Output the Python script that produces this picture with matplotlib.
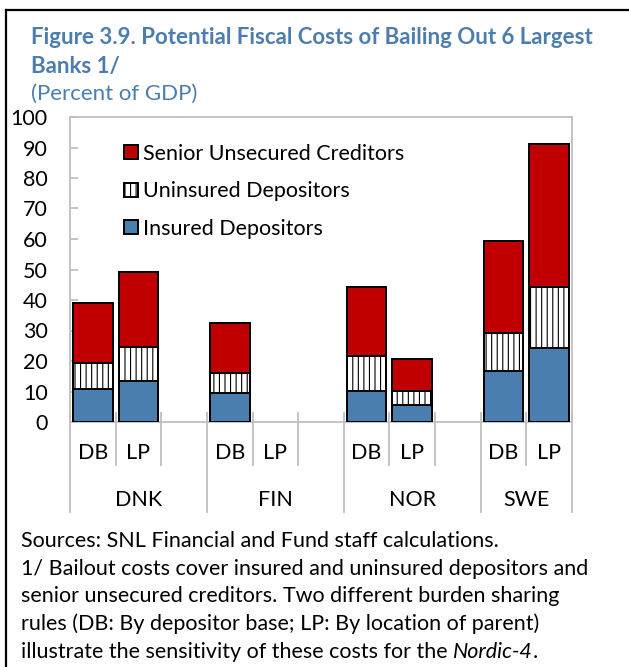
import matplotlib
matplotlib.use('Agg')
import matplotlib.pyplot as plt
from matplotlib.transforms import blended_transform_factory
from matplotlib.lines import Line2D
from matplotlib.patches import Patch
import numpy as np

plt.rcParams['font.family'] = ['Lato', 'DejaVu Sans']
plt.rcParams['hatch.linewidth'] = 0.8

# ---- data ----
countries = ['DNK', 'FIN', 'NOR', 'SWE']
rules = ['DB', 'LP']
insured = [10.8, 13.3, 9.5, 0.0, 10.1, 5.5, 16.7, 24.4]
uninsured = [8.5, 11.2, 6.5, 0.0, 11.7, 4.8, 12.4, 19.8]
senior = [19.7, 24.8, 16.5, 0.0, 22.4, 10.3, 30.1, 46.9]
yticks = list(range(0, 101, 10))
series_names = ['Insured Depositors', 'Uninsured Depositors', 'Senior Unsecured Creditors']

title_lines = ['Figure 3.9. Potential Fiscal Costs of Bailing Out 6 Largest', 'Banks 1/']
subtitle = '(Percent of GDP)'
notes = ['Sources: SNL Financial and Fund staff calculations.',
         '1/ Bailout costs cover insured and uninsured depositors and',
         'senior unsecured creditors. Two different burden sharing',
         'rules (DB: By depositor base; LP: By location of parent)',
         'illustrate the sensitivity of these costs for the ']
notes_italic = 'Nordic-4'
notes_tail = '.'

# ---- styling ----
W, H = 629, 667
BLUE = '#4A7EAE'
RED = '#C00000'
TBLUE = '#4C7DB0'
GRAY = '#BFBFBF'
FS = 15.5
FS_T = 16

fig = plt.figure(figsize=(W / 100, H / 100), dpi=100)
ax = fig.add_axes([70 / W, 1 - 422 / H, (572 - 70) / W, (422 - 117) / H])

pos = []
for g in range(len(countries)):
    for r in range(len(rules)):
        pos.append(g * 3 + r)
pos = np.array(pos, dtype=float)
ins = np.array(insured)
uni = np.array(uninsured)
sen = np.array(senior)
tot = ins + uni + sen
keep = tot > 0

bw = 0.87
ekw = dict(edgecolor='black', linewidth=1.4)
ax.bar(pos[keep], ins[keep], bw, color=BLUE, **ekw, zorder=3)
ax.bar(pos[keep], uni[keep], bw, bottom=ins[keep], color='white', hatch='|||', **ekw, zorder=3)
ax.bar(pos[keep], sen[keep], bw, bottom=(ins + uni)[keep], color=RED, **ekw, zorder=3)

ax.set_xlim(-0.5, 10.5)
ax.set_ylim(0, 100)
ax.set_yticks(yticks)
ax.set_yticklabels([str(v) for v in yticks], fontsize=FS)
ax.set_xticks([])
ax.tick_params(axis='y', direction='in', length=5.5, width=1.3, color=GRAY, pad=16)
for s in ax.spines.values():
    s.set_color(GRAY)
    s.set_linewidth(1.3)

# category separators and labels
tr = blended_transform_factory(ax.transData, fig.transFigure)
fy = lambda px: 1 - px / H
n_slots = 11
for b in np.arange(-0.5, n_slots, 1.0):
    group = (b + 0.5) % 3 == 0 or b == n_slots - 0.5
    bottom = 512 if group else 465
    ax.add_line(Line2D([b, b], [fy(413), fy(bottom)], transform=tr, color=GRAY,
                       linewidth=1.3, clip_on=False, zorder=1))
for p, lab in zip(pos, rules * len(countries)):
    ax.text(p, fy(453), lab, transform=tr, ha='center', va='center', fontsize=FS)
for g, c in enumerate(countries):
    lo = g * 3 - 0.5
    hi = min(g * 3 + 2.5, n_slots - 0.5)
    ax.text((lo + hi) / 2, fy(500), c, transform=tr, ha='center', va='center', fontsize=FS)

# legend
handles = [Patch(facecolor=RED, edgecolor='black', linewidth=1.4),
           Patch(facecolor='white', edgecolor='black', hatch='|||', linewidth=1.4),
           Patch(facecolor=BLUE, edgecolor='black', linewidth=1.4)]
ax.legend(handles, series_names[::-1], loc='upper left', bbox_to_anchor=(0.108, 0.912),
          frameon=False, fontsize=FS, handlelength=0.62, handleheight=0.62,
          handletextpad=0.25, labelspacing=0.81, borderaxespad=0, borderpad=0)

# titles
fig.text(31 / W, fy(38), title_lines[0], fontsize=FS_T, fontweight='bold', color=TBLUE, va='center')
fig.text(31 / W, fy(66), title_lines[1], fontsize=FS_T, fontweight='bold', color=TBLUE, va='center')
fig.text(31 / W, fy(94), subtitle, fontsize=FS_T, color=TBLUE, va='center')

# notes
note_texts = []
for i, t in enumerate(notes):
    note_texts.append(fig.text(21 / W, fy(541 + i * 27.7), t, fontsize=FS, va='center'))
fig.canvas.draw()
r = fig.canvas.get_renderer()
bb = note_texts[-1].get_window_extent(r)
it = fig.text(bb.x1 / W, fy(541 + 4 * 27.7), notes_italic, fontsize=FS, style='italic', va='center')
bb2 = it.get_window_extent(r)
fig.text(bb2.x1 / W, fy(541 + 4 * 27.7), notes_tail, fontsize=FS, va='center')

# outer border (top and left visible)
fig.add_artist(Line2D([5.5 / W, 1], [fy(10), fy(10)], transform=fig.transFigure, color='black', linewidth=1.6))
fig.add_artist(Line2D([5.5 / W, 5.5 / W], [fy(10), 0], transform=fig.transFigure, color='black', linewidth=1.6))

fig.savefig('out.png', dpi=100)
